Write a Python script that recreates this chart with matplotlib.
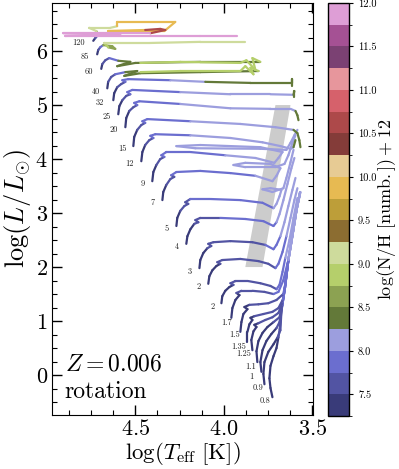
import numpy as np
import matplotlib
matplotlib.use('Agg')
import matplotlib.pyplot as plt
from matplotlib.collections import LineCollection
from matplotlib.colors import ListedColormap, BoundaryNorm
from matplotlib.ticker import MultipleLocator
import matplotlib.cm as cm

plt.rcParams['font.family'] = 'serif'
plt.rcParams['font.serif'] = ['cmr10']
plt.rcParams['mathtext.fontset'] = 'cm'
plt.rcParams['axes.formatter.use_mathtext'] = True

# ---------------- data: tracks (logTeff, logL, log(N/H)+12) ----------------
t08 = ([3.726,3.737,3.743,3.737,3.720,3.703,3.692,3.685,3.675,3.658,3.636,3.613,3.590,3.568],
       [-0.41,-0.24,-0.06,0.17,0.35,0.50,0.70,0.85,1.20,1.57,2.13,2.59,3.06,3.39],
       [7.3,7.3,7.3,7.3,7.35,7.45,7.55,7.65,7.8,7.9,8.05,8.1,8.1,8.1])
t09 = ([3.771,3.777,3.771,3.749,3.720,3.698,3.681,3.675,3.658,3.636,3.613,3.590,3.570],
       [-0.17,0.02,0.24,0.43,0.57,0.69,0.83,1.20,1.57,2.13,2.59,3.06,3.38],
       [7.3,7.3,7.3,7.35,7.45,7.55,7.65,7.8,7.9,8.05,8.1,8.1,8.1])
t10 = ([3.788,3.794,3.782,3.760,3.732,3.703,3.686,3.672,3.656,3.636,3.613,3.590,3.570],
       [0.06,0.24,0.46,0.63,0.76,0.87,0.98,1.25,1.60,2.13,2.59,3.06,3.38],
       [7.3,7.3,7.3,7.35,7.45,7.55,7.65,7.8,7.9,8.05,8.1,8.1,8.1])
t11 = ([3.811,3.816,3.805,3.782,3.754,3.720,3.686,3.670,3.655,3.636,3.613,3.590,3.570],
       [0.24,0.44,0.63,0.78,0.89,0.98,1.07,1.30,1.62,2.13,2.59,3.06,3.38],
       [7.3,7.3,7.3,7.35,7.45,7.55,7.65,7.8,7.9,8.05,8.1,8.1,8.1])
t125 = ([3.839,3.845,3.833,3.816,3.828,3.805,3.766,3.726,3.692,3.668,3.655,3.636,3.613,3.590,3.570],
        [0.46,0.65,0.81,0.89,0.93,0.96,1.02,1.07,1.15,1.35,1.62,2.13,2.59,3.06,3.38],
        [7.3,7.3,7.35,7.4,7.45,7.5,7.55,7.6,7.7,7.8,7.9,8.05,8.1,8.1,8.1])
t135 = ([3.867,3.867,3.856,3.839,3.850,3.828,3.777,3.726,3.692,3.667,3.655,3.636,3.613,3.590,3.570],
        [0.61,0.80,0.94,1.02,1.06,1.09,1.13,1.17,1.24,1.40,1.62,2.13,2.59,3.06,3.38],
        [7.3,7.3,7.35,7.4,7.45,7.5,7.55,7.6,7.7,7.8,7.9,8.05,8.1,8.1,8.1])
t15 = ([3.907,3.901,3.890,3.867,3.884,3.856,3.805,3.749,3.703,3.665,3.655,3.636,3.613,3.590,3.570],
       [0.80,0.98,1.13,1.22,1.26,1.30,1.31,1.33,1.39,1.50,1.65,2.13,2.59,3.06,3.38],
       [7.3,7.3,7.35,7.4,7.45,7.5,7.6,7.65,7.7,7.8,7.9,8.05,8.1,8.1,8.1])
t17 = ([3.958,3.952,3.935,3.912,3.929,3.901,3.839,3.771,3.720,3.692,3.665,3.636,3.613,3.590,3.570],
       [1.06,1.24,1.39,1.48,1.52,1.56,1.56,1.54,1.50,1.54,1.75,2.13,2.59,3.06,3.38],
       [7.3,7.3,7.35,7.45,7.5,7.55,7.6,7.7,7.75,7.8,7.9,8.05,8.1,8.1,8.1])
t2b = ([4.014,4.009,3.992,3.969,3.946,3.963,3.935,3.862,3.794,3.737,3.703,3.686,3.669,3.653,3.630,3.607,3.585],
       [1.33,1.46,1.56,1.63,1.67,1.70,1.74,1.74,1.70,1.65,1.59,1.67,1.91,2.17,2.50,2.91,3.28],
       [7.3,7.3,7.35,7.4,7.5,7.55,7.6,7.6,7.65,7.7,7.75,7.8,7.9,8.05,8.1,8.1,8.1])
t2a = ([4.088,4.082,4.065,4.042,4.020,4.037,4.009,3.907,3.805,3.749,3.709,3.692,3.669,3.647,3.624,3.602,3.585],
       [1.69,1.83,1.94,2.02,2.06,2.09,2.13,2.15,2.11,2.06,1.98,2.06,2.28,2.57,2.91,3.24,3.46],
       [7.3,7.3,7.35,7.4,7.5,7.55,7.6,7.6,7.65,7.7,7.75,7.8,7.9,8.05,8.1,8.1,8.1])
t3 = ([4.138,4.133,4.116,4.093,4.071,4.088,4.059,3.963,3.839,3.766,3.720,3.703,3.681,3.658,3.636,3.613,3.596],
      [1.98,2.13,2.26,2.35,2.39,2.43,2.46,2.48,2.46,2.41,2.33,2.41,2.57,2.83,3.13,3.43,3.65],
      [7.3,7.3,7.4,7.5,7.55,7.6,7.65,7.65,7.7,7.75,7.8,7.85,8.05,8.1,8.1,8.1,8.1])
t4 = ([4.212,4.206,4.189,4.167,4.144,4.161,4.133,4.020,3.879,3.777,3.720,3.703,3.686,3.664,3.641,3.619,3.602],
      [2.43,2.57,2.70,2.80,2.83,2.87,2.91,2.91,2.89,2.85,2.76,2.83,2.98,3.24,3.54,3.83,4.02],
      [7.3,7.35,7.45,7.55,7.6,7.65,7.7,7.8,7.85,7.9,7.95,8.05,8.1,8.1,8.1,8.1,8.1])
t5 = ([4.268,4.263,4.246,4.223,4.201,4.218,4.189,4.076,3.907,3.782,3.720,3.703,3.686,3.675,3.737,3.782,3.726,3.664,3.647,3.624,3.607],
      [2.76,2.91,3.04,3.13,3.17,3.20,3.26,3.26,3.24,3.19,3.09,3.17,3.31,3.43,3.46,3.44,3.39,3.46,3.65,3.94,4.17],
      [7.3,7.4,7.5,7.6,7.65,7.7,7.8,7.85,7.9,7.95,8.0,8.05,8.1,8.1,8.1,8.1,8.1,8.1,8.1,8.1,8.1])
t7 = ([4.347,4.342,4.325,4.302,4.280,4.297,4.268,4.133,3.963,3.822,3.726,3.703,3.681,3.737,3.879,3.946,3.879,3.709,3.658,3.636,3.613,3.596],
      [3.24,3.39,3.52,3.63,3.67,3.70,3.76,3.78,3.74,3.69,3.59,3.69,3.83,3.91,3.93,3.89,3.85,3.85,3.91,4.07,4.30,4.44],
      [7.3,7.4,7.55,7.65,7.7,7.75,7.85,7.9,7.95,8.05,8.1,8.1,8.1,8.1,8.1,8.1,8.1,8.1,8.1,8.1,8.1,8.1])
t9 = ([4.404,4.398,4.381,4.359,4.336,4.353,4.325,4.189,3.992,3.822,3.715,3.692,3.669,3.794,4.133,4.268,4.161,3.794,3.647,3.624,3.602,3.585],
      [3.59,3.76,3.89,4.00,4.04,4.07,4.13,4.13,4.07,4.02,3.93,4.02,4.13,4.22,4.26,4.24,4.20,4.19,4.17,4.30,4.44,4.54],
      [7.3,7.45,7.6,7.7,7.75,7.8,7.9,7.95,8.05,8.1,8.1,8.1,8.1,8.1,8.1,8.1,8.1,8.1,8.1,8.1,8.1,8.1])
t12 = ([4.466,4.460,4.444,4.421,4.398,4.415,4.387,4.189,3.963,3.782,3.681,3.624,3.607,3.596],
       [3.96,4.13,4.26,4.35,4.39,4.43,4.46,4.44,4.39,4.31,4.24,4.19,4.22,4.35],
       [7.3,7.45,7.6,7.7,7.8,7.85,7.9,8.05,8.1,8.1,8.1,8.15,8.3,8.35])
t15m = ([4.511,4.506,4.489,4.466,4.444,4.460,4.432,4.189,3.907,3.709,3.607,3.585,3.574,3.568],
        [4.24,4.41,4.54,4.63,4.67,4.70,4.74,4.70,4.65,4.59,4.54,4.48,4.35,4.22],
        [7.3,7.45,7.6,7.7,7.8,7.85,7.95,8.1,8.1,8.1,8.3,8.35,8.35,8.35])
t20 = ([4.556,4.551,4.534,4.511,4.489,4.506,4.477,4.246,3.963,3.737,3.624,3.596,3.585,3.579],
       [4.59,4.76,4.89,4.96,5.00,5.04,5.07,5.02,4.94,4.93,4.93,4.89,4.81,4.72],
       [7.3,7.45,7.6,7.7,7.8,7.85,7.95,8.1,8.1,8.1,8.15,8.35,8.35,8.35])
t25 = ([4.596,4.590,4.573,4.551,4.528,4.545,4.517,4.246,3.963,3.737,3.607,3.602,3.602],
       [4.83,4.98,5.09,5.17,5.20,5.24,5.28,5.24,5.20,5.20,5.19,5.26,5.15],
       [7.3,7.45,7.6,7.7,7.8,7.85,7.95,8.1,8.1,8.1,8.4,8.4,8.4])
t32 = ([4.624,4.619,4.602,4.579,4.556,4.573,4.540,4.302,4.105,3.850,3.613,3.613,3.613],
       [5.09,5.22,5.33,5.39,5.43,5.46,5.48,5.46,5.43,5.41,5.41,5.48,5.35],
       [7.3,7.45,7.6,7.7,7.8,7.85,7.95,8.1,8.4,8.4,8.4,8.4,8.4])
t40 = ([4.658,4.653,4.636,4.613,4.556,4.489,4.562,4.472,4.133,3.805,3.850,3.833,3.879,3.907,4.246,4.472],
       [5.31,5.43,5.52,5.57,5.61,5.63,5.54,5.59,5.61,5.63,5.69,5.57,5.72,5.63,5.63,5.61],
       [7.3,7.5,7.7,7.9,8.4,8.4,8.4,8.4,8.4,8.9,8.9,8.9,8.9,8.9,8.9,8.9])
t60 = ([4.692,4.686,4.669,4.647,4.596,4.528,4.602,4.500,4.133,3.794,3.839,3.822,3.873,3.907,4.246,4.472],
       [5.67,5.76,5.83,5.87,5.82,5.80,5.72,5.78,5.80,5.80,5.87,5.65,5.83,5.78,5.80,5.78],
       [7.3,7.5,7.7,7.9,8.4,8.4,8.4,8.4,8.4,8.9,8.9,8.9,8.9,8.9,8.9,8.9])
t85 = ([4.715,4.709,4.698,4.681,4.630,4.613,4.653,4.675,4.415,4.133,3.879],
       [5.94,6.02,6.07,6.11,6.09,6.04,6.07,6.15,6.15,6.17,6.17],
       [7.3,7.5,7.8,8.6,8.7,8.7,8.9,9.1,9.1,9.1,9.1])
t120 = ([4.737,4.726,4.709,4.720,4.760,4.641,4.602,4.602,4.274,4.336,4.653,4.444,4.359,4.331,4.415,4.907,4.585,4.895,4.133,3.924],
        [6.19,6.24,6.30,6.37,6.43,6.43,6.46,6.54,6.54,6.37,6.37,6.39,6.41,6.39,6.33,6.33,6.30,6.28,6.28,6.28],
        [7.3,7.7,8.6,9.0,9.0,9.0,9.8,9.8,9.8,9.8,9.8,10.6,10.6,10.6,11.9,11.9,11.9,11.9,11.9,11.9])

tracks = [t08, t09, t10, t11, t125, t135, t15, t17, t2b, t2a, t3, t4, t5, t7, t9,
          t12, t15m, t20, t25, t32, t40, t60, t85, t120]

# mass labels and their positions (logTeff, logL)
mass_labels = ['120', '85', '60', '40', '32', '25', '20', '15', '12', '9', '7', '5', '4',
               '3', '2', '2', '1.7', '1.5', '1.35', '1.25', '1.1', '1', '0.9', '0.8']
label_T = [4.822, 4.782, 4.760, 4.720, 4.698, 4.664, 4.624, 4.573, 4.534, 4.460, 4.404, 4.325,
           4.268, 4.195, 4.144, 4.065, 3.986, 3.941, 3.918, 3.890, 3.850, 3.845, 3.805, 3.766]
label_L = [6.148, 5.889, 5.611, 5.241, 5.037, 4.778, 4.537, 4.185, 3.907, 3.537, 3.185, 2.704,
           2.370, 1.907, 1.630, 1.259, 0.963, 0.741, 0.519, 0.389, 0.148, -0.037, -0.241, -0.481]

# instability strip
strip_T = [3.879, 3.782, 3.624, 3.709]
strip_L = [2.0, 2.0, 5.0, 5.0]

cbar_ticks = [7.5, 8.0, 8.5, 9.0, 9.5, 10.0, 10.5, 11.0, 11.5, 12.0]

# ---------------- plot ----------------
base = plt.cm.tab20b.colors
cols = list(base[:18]) + [base[19]]
cmap = ListedColormap(cols)
bounds = np.arange(7.25, 12.0 + 0.001, 0.25)
norm = BoundaryNorm(bounds, cmap.N)

fig = plt.figure(figsize=(3.99, 4.69), dpi=100)
ax = fig.add_axes([52/399, 54/469, 261/399, 412/469])
cax = fig.add_axes([328/399, 53/469, 21/399, 413/469])

ax.fill(strip_T, strip_L, color='#cccccc', lw=0, zorder=1)

for T, L, N in tracks:
    pts = np.column_stack([T, L])
    segs = np.stack([pts[:-1], pts[1:]], axis=1)
    lc = LineCollection(segs, cmap=cmap, norm=norm, linewidths=1.6,
                        capstyle='round', joinstyle='round', zorder=2)
    lc.set_array(np.asarray(N[:-1]))
    ax.add_collection(lc)

for lab, x, y in zip(mass_labels, label_T, label_L):
    ax.text(x, y, lab, fontsize=6, ha='center', va='center', color='#222222')

ax.set_xlim(4.97, 3.497)
ax.set_ylim(-0.74, 6.89)
ax.xaxis.set_major_locator(MultipleLocator(0.5))
ax.xaxis.set_minor_locator(MultipleLocator(0.125))
ax.yaxis.set_major_locator(MultipleLocator(1))
ax.yaxis.set_minor_locator(MultipleLocator(0.25))
ax.tick_params(which='both', direction='in', top=True, right=True, labelsize=16)
ax.tick_params(which='major', length=7, width=1, pad=3)
ax.tick_params(which='minor', length=3.5, width=0.8)
ax.set_xlabel(r'$\log(T_{\rm eff}\ [\rm K])$', fontsize=16.5, labelpad=0.5)
ax.set_ylabel(r'$\log(L/L_{\odot})$', fontsize=19, labelpad=2)

ax.text(0.05, 0.109, r'$Z=0.006$', transform=ax.transAxes, fontsize=17, va='baseline')
ax.text(0.047, 0.041, 'rotation', transform=ax.transAxes, fontsize=17, va='baseline')

sm = cm.ScalarMappable(cmap=cmap, norm=norm)
cb = fig.colorbar(sm, cax=cax, ticks=cbar_ticks)
cb.ax.set_yticklabels([f'{t:.1f}' for t in cbar_ticks])
cb.ax.tick_params(labelsize=7.5, length=3, width=0.8)
cb.outline.set_linewidth(1)
cb.set_label(r'$\log(\rm N/H\ [numb.])+12$', fontsize=13, labelpad=-1)

fig.savefig('out.png', dpi=100)
